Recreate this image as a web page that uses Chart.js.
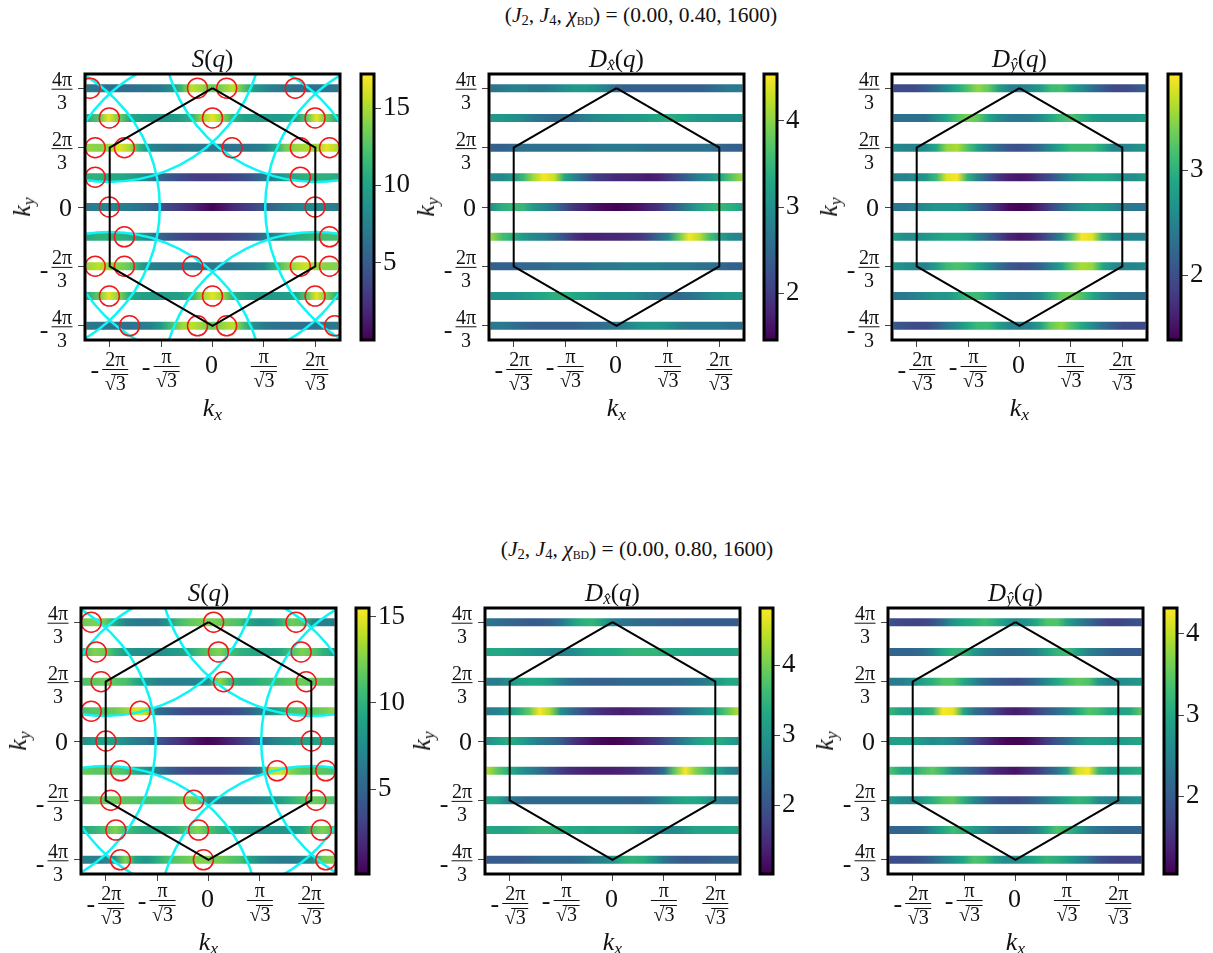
<!DOCTYPE html>
<html>
<head>
<meta charset="utf-8">
<script src="https://cdn.jsdelivr.net/npm/chart.js@4/dist/chart.umd.min.js"></script>
<style>
  body { margin: 0; background: #fff; width: 1213px; height: 953px; overflow: hidden; position: relative; }
  canvas { position: absolute; }
  .txt { position: absolute; transform: translate(-50%, -50%); font-family: "Liberation Serif", serif; color: #111; white-space: nowrap; line-height: 1; }
  .txt sub { font-size: 68%; line-height: 0; vertical-align: -0.22em; }
  .txt .bd { font-size: 55%; font-style: normal; }
</style>
</head>
<body>
<script>
// momentum samples along every strip, and the rows they sit on
const xGrid = [-4.45,-4.03,-3.67,-3.3,-2.93,-2.57,-2.2,-1.83,-1.47,-1.1,-0.73,-0.37,0,0.37,0.73,1.1,1.47,1.83,2.2,2.57,2.93,3.3,3.67,4.03,4.45];
const yRows = [4.19,3.14,2.09,1.05,0,-1.05,-2.09,-3.14,-4.19];

const xTickValues = [-3.628,-1.814,0,1.814,3.628];
const xTickNums = ["2π","π","0","π","2π"];
const yTickValues = [4.189,2.094,0,-2.094,-4.189];
const yTickNums = ["4π","2π","0","2π","4π"];

// J4 = 0.40
const Sq040 = [
  [6.8,6.6,6.4,6.2,6.2,6.4,6.6,7,8.5,11.5,15.5,14.5,13,14,15.5,12.5,9.5,8,7.2,6.8,6.5,6.3,6.4,6.7,7],
  [10.5,12.5,16.5,13.5,10.5,9.7,9.3,9.2,9.3,9.8,11,14.5,16.5,14,11,10,9.5,9.3,9.3,9.5,10,12.5,16.5,13,10.3],
  [14.5,14,14.5,16.5,15,11,8,7,6.6,6.6,6.8,6.8,6.8,6.6,6.6,6.8,7,7.5,10,13.5,14.5,15,14.5,16.5,15],
  [11,11,10.5,10.5,10,9,7.5,5.5,4.5,3.8,3.3,3,3,3.2,3.5,4,5,6.5,8,9.5,10.5,11,11,11,10.5],
  [7,7.5,8,7.5,7,6.5,5.5,4.5,3.5,2.8,2,1,0.2,1,2,2.8,3.5,4.8,6,6.8,7.5,8,8.2,7.5,7],
  [10.5,11,11,11,10.5,9.5,7.5,5.5,4.5,3.8,3.4,3,3,3.2,3.6,4,4.8,6.5,8,9.5,10.5,11,11.5,12,12],
  [14.5,15.5,14.5,14,13,10,7.5,7,6.8,6.8,7,6.8,6.8,6.6,6.6,6.8,7.2,8,11,13.5,15,16,14.5,14,14],
  [10.3,13,16.5,14,10.5,9.8,9.4,9.3,9.4,9.8,11,14.5,16.5,14.5,11,10,9.5,9.3,9.3,9.5,10,12.5,16.5,13.5,10.5],
  [7,6.7,6.5,6.4,6.5,7,7.5,9,12,14.5,15.5,14.5,13,14.5,15.5,12,8.5,7,6.5,6.3,6.3,6.5,6.6,6.8,7]
];
const Dx040 = [
  [2.6,2.7,2.8,2.8,2.7,2.7,2.8,3,3.1,3.1,3,2.8,2.5,2.4,2.4,2.4,2.4,2.4,2.4,2.4,2.4,2.5,2.6,2.7,2.7],
  [3.1,3.1,3,2.9,2.7,2.6,2.5,2.5,2.6,2.8,2.9,3,3,3.1,3.1,3.2,3.3,3.4,3.3,3.2,3.1,3.1,3,3,3],
  [2.4,2.4,2.5,2.6,2.6,2.6,2.6,2.6,2.6,2.6,2.7,2.7,2.7,2.7,2.7,2.6,2.6,2.6,2.6,2.6,2.6,2.6,2.5,2.4,2.4],
  [2.9,2.9,3.1,3.5,4.1,4.5,4.3,3.3,2.8,2.4,2,1.9,1.8,1.8,1.75,1.7,1.75,1.95,2.2,2.5,2.8,3,3.3,3.7,4.1],
  [3,3.4,3.5,3.5,3.1,2.9,2.6,2.2,1.9,1.75,1.6,1.52,1.47,1.52,1.6,1.75,1.9,2.2,2.5,2.9,3.2,3.4,3.5,3.4,3.2],
  [4.1,3.6,3.4,3.1,2.9,2.8,2.5,2.2,1.9,1.75,1.75,1.8,1.8,1.85,1.9,2.1,2.5,2.9,3.8,4.5,4.2,3.6,3.2,2.9,2.8],
  [2.4,2.4,2.4,2.5,2.5,2.5,2.6,2.6,2.6,2.6,2.7,2.7,2.7,2.8,2.8,2.8,2.8,2.7,2.7,2.7,2.6,2.6,2.5,2.4,2.4],
  [3,3,3,3.1,3.2,3.3,3.4,3.4,3.3,3.2,3.1,3,3,3,2.9,2.8,2.7,2.6,2.5,2.6,2.7,2.9,3,3.1,3.1],
  [2.7,2.7,2.6,2.5,2.4,2.4,2.4,2.4,2.4,2.5,2.5,2.6,2.7,2.8,3,3.1,3.1,3,2.8,2.7,2.7,2.7,2.7,2.6,2.6]
];
const Dy040 = [
  [1.95,1.95,1.95,2.1,2.3,2.6,2.9,3.2,3.5,3.3,2.8,2.5,2.45,2.55,2.75,3.1,3.15,2.85,2.6,2.3,2.1,1.95,1.95,2,2.2],
  [2.3,2.3,2.3,2.3,2.6,2.9,3.2,3.4,3.3,2.9,2.6,2.45,2.4,2.45,2.6,2.9,3.1,3.2,3,2.8,2.7,2.7,2.7,2.7,2.8],
  [2.6,2.5,2.5,2.6,2.9,3.5,3.6,3.2,2.8,2.5,2.2,2.05,2,2.1,2.3,2.6,2.9,3.1,3.1,3.1,2.9,2.5,2.5,2.6,2.7],
  [2.5,2.5,2.6,2.7,3.1,3.8,3.9,3,2.5,2.1,1.75,1.6,1.55,1.6,1.8,2,2.3,2.6,2.8,2.9,2.9,2.8,2.6,2.6,2.8],
  [2.4,2.4,2.5,2.6,2.7,2.7,2.7,2.5,2.2,1.9,1.65,1.45,1.4,1.45,1.65,1.9,2.2,2.5,2.7,2.8,2.7,2.6,2.4,2.4,2.4],
  [2.8,2.6,2.6,2.7,2.8,2.9,2.9,2.8,2.5,2.2,1.9,1.65,1.55,1.6,1.8,2.1,2.5,3.2,3.9,3.8,3,2.6,2.5,2.5,2.5],
  [2.7,2.6,2.5,2.5,2.8,3.1,3.2,3.1,2.9,2.6,2.3,2.1,2,2.05,2.2,2.5,2.8,3.3,3.6,3.5,2.9,2.6,2.5,2.5,2.6],
  [2.4,2.4,2.5,2.6,2.7,2.7,2.9,3.1,3.1,2.9,2.6,2.45,2.4,2.45,2.6,3,3.3,3.4,3.2,2.9,2.6,2.4,2.3,2.3,2.3],
  [2.1,2,1.95,1.95,2.1,2.4,2.6,2.9,3.1,3.1,2.8,2.55,2.45,2.5,2.8,3.3,3.5,3.2,2.9,2.6,2.3,2.1,1.95,1.95,1.95]
];

// J4 = 0.80
const Sq080 = [
  [12,12.5,12,9.5,7,6.5,6.3,6.3,8,10.5,11.5,12,12.5,12,11.5,11,9,8,8.5,10,12,11.5,7.5,6.8,6.8],
  [10.5,12.5,12,10,8.5,7.8,7.5,7.5,8,8.5,9.5,10.5,11.5,12.5,11,10,9.5,9,9,9.5,11,12.5,11.5,10,9],
  [11,11.5,12,11.5,11,9.5,8,7,6.8,6.8,6.8,7,8,13,10.5,9.5,9.5,10,10.5,11,11.5,12,11.5,11.5,11.5],
  [11,11.5,11.5,12,13,14.5,14,6,4.8,4,3.6,3.4,3.3,3.3,3.6,4,5,6.5,8,9.5,11,11.5,11.5,12,13],
  [8,8.5,9,8.5,7.5,6.5,6,4.5,3.2,2.5,1.5,0.7,0.2,0.7,1.5,2.5,3.5,5,6.5,7.5,8,8.8,9,9,8.8],
  [12,11.5,11.5,11.5,11,9.5,8,6.5,5,4,3.6,3.3,3.3,3.3,3.6,4,4.8,6,14,14.5,12.5,11.5,11.5,11.5,11],
  [11,11.5,11.8,12,11.5,11.5,11,11,11,11.5,12.5,12,7.5,7,7,7,7,7.5,8,8.8,10,11,12,11.5,11],
  [9.5,10,11,12.5,11,10,9.5,9.5,9.5,10,11.5,12.5,11,10,9.5,9,8.5,8,8,8,8.5,9,11,12.5,11],
  [6.8,6.8,7,8,12.5,9,8,9.5,11,11.5,12,12.5,12.5,12,11.5,11,9,7.5,6.8,6.5,6.5,7,8,12,12.5]
];
const Dx080 = [
  [2.5,2.4,2.3,2.2,2.1,2.1,2.2,2.5,3,3.4,3.5,3.2,2.7,2.5,2.4,2.3,2.3,2.2,2.2,2.1,2.1,2.1,2.1,2.1,2.1],
  [3.3,3.3,3.2,3.1,3,2.9,2.8,2.7,2.8,3,3.2,3.3,3.3,3.4,3.5,3.5,3.5,3.4,3.3,3.3,3.2,3.2,3.2,3.2,3.3],
  [2.6,2.6,2.9,3.2,3.3,3.3,3.1,2.7,2.4,2.3,2.2,2.2,2.2,2.3,2.3,2.3,2.3,2.3,2.3,2.4,2.5,2.6,3,3.3,3.3],
  [2.6,2.7,3,3.4,3.9,4.8,4.3,2.9,2.4,2,1.7,1.5,1.4,1.35,1.4,1.5,1.6,1.75,2,2.4,2.7,3,3.3,3.8,4.4],
  [2.9,3.2,3.4,3.2,2.9,2.6,2.4,2.1,1.7,1.4,1.2,1.08,1.03,1.08,1.2,1.4,1.6,1.9,2.3,2.7,3.1,3.3,3.4,3.2,3],
  [4.4,3.8,3.4,3,2.7,2.4,2,1.7,1.5,1.4,1.35,1.35,1.35,1.4,1.5,1.7,1.9,2.4,3.9,4.8,4.1,3.7,3.3,2.8,2.6],
  [3.3,3.2,2.6,2.4,2.3,2.3,2.3,2.3,2.3,2.3,2.3,2.3,2.3,2.3,2.25,2.3,2.5,2.8,3.1,3.3,3.3,3.1,2.7,2.6,2.6],
  [3.3,3.2,3.2,3.3,3.4,3.5,3.5,3.4,3.3,3.3,3.2,3.3,3.3,3.3,3.2,3,2.9,2.8,2.8,3,3.2,3.2,3.2,3.3,3.3],
  [2.1,2.1,2.1,2.1,2.2,2.3,2.3,2.3,2.3,2.4,2.6,2.7,2.9,3.4,3.5,3.4,3,2.5,2.2,2.1,2.1,2.1,2.2,2.2,2.3]
];
const Dy080 = [
  [1.85,1.75,1.7,1.7,1.85,2.2,2.7,3,3.1,3.3,3.1,2.8,2.6,2.7,3,3.4,3.4,2.9,2.5,2.2,1.9,1.7,1.7,1.8,1.9],
  [2.1,2.1,2.1,2.2,2.5,3,3.2,3.2,2.8,2.5,2.3,2.2,2.2,2.3,2.5,2.9,3.2,3.3,2.9,2.5,2.3,2.1,2,2,2],
  [2.4,2.4,2.6,2.9,3.1,3.4,3.4,3,2.6,2.2,2,1.9,1.8,1.95,2.2,2.6,3,3.3,3.5,3.4,2.8,2.5,2.6,2.7,2.8],
  [3.2,2.9,2.9,3,3.2,4.3,4.2,3,2.3,2,1.7,1.4,1.3,1.4,1.65,1.95,2.2,2.5,3,3.4,3.3,3,2.9,3,3.5],
  [2.9,2.9,2.9,2.8,2.6,2.7,2.5,2.2,1.8,1.5,1.25,1.1,1.05,1.1,1.3,1.6,1.9,2.2,2.6,2.9,2.9,2.8,2.8,2.9,3],
  [3.4,3,3,3.3,3.5,3.2,2.6,2.3,2,1.7,1.4,1.3,1.2,1.4,1.55,1.9,2.3,2.9,4.1,4.3,3.2,2.9,2.9,3,3.1],
  [2.8,2.6,2.5,2.8,3.1,3.4,3.5,3.1,2.6,2.2,1.9,1.85,1.8,1.9,2.1,2.4,2.7,3,3.2,3.1,2.6,2.5,2.5,2.6,2.7],
  [2.1,2.1,2.1,2.2,2.6,3,3.3,3.1,2.8,2.6,2.3,2.2,2.2,2.3,2.5,3,3.4,3.2,2.9,2.5,2.3,2.2,2.1,2.1,2.1],
  [1.8,1.8,1.8,1.9,2.1,2.4,2.7,3,3.4,3.3,2.9,2.6,2.6,2.8,3,3.2,3.1,2.9,2.6,2.3,1.9,1.75,1.7,1.7,1.75]
];

// peak markers, one list per row of yRows
const redX040 = [
  [-4.32,-0.53,0.5,2.92],[-3.64,0,3.62],[-4.14,-3.11,0.69,3.1,4.13],[-4.14,3.1],[-3.64,3.62],
  [-3.11,4.13],[-4.14,-3.11,-0.7,3.1,4.13],[-3.64,0,3.62],[-2.93,-0.53,0.5,4.31]
];
const redX080 = [
  [-4.14,0.18,3.09],[-3.96,0.35,3.27],[-3.79,0.53,3.45],[-4.14,-2.41,3.11],[-3.62,3.63],
  [-3.1,2.42,4.14],[-3.45,-0.52,3.79],[-3.27,-0.35,3.98],[-3.11,-0.18,4.14]
];

// zone boundary and the centres of the cyan circles
const hexX = [0,3.628,3.628,0,-3.628,-3.628,0];
const hexY = [4.189,2.094,-2.094,-4.189,-2.094,2.094,4.189];
const cyanX = [0,7.26,-7.26,3.63,3.63,-3.63,-3.63];
const cyanY = [0,0,0,6.28,-6.28,6.28,-6.28];

// colorbar limits and ticks
const cbarMin = [0,1.46,1.38,0.07,1.02,1.04];
const cbarMax = [17.2,4.54,3.92,15.5,4.82,4.32];
const cbarTicks = [[5,10,15],[2,3,4],[2,3],[5,10,15],[2,3,4],[2,3,4]];

const viridis = [[68,1,84],[72,36,117],[65,68,135],[53,95,141],[42,120,142],[33,145,140],[34,168,132],[68,191,112],[122,209,81],[189,223,38],[253,231,37]];
const SERIF = '"Liberation Serif", serif';

function cmap(t) {
  t = Math.min(1, Math.max(0, t));
  const i = Math.min(9, Math.floor(t * 10));
  const f = t * 10 - i;
  const c = viridis[i].map((v, n) => Math.round(v + (viridis[i + 1][n] - v) * f));
  return `rgb(${c[0]},${c[1]},${c[2]})`;
}

function addText(html, x, y, size, rotate) {
  const d = document.createElement("div");
  d.className = "txt";
  d.innerHTML = html;
  d.style.left = x + "px";
  d.style.top = y + "px";
  d.style.fontSize = size + "px";
  if (rotate) d.style.transform = "translate(-50%, -50%) rotate(-90deg)";
  document.body.appendChild(d);
}

function addCanvas(left, top, w, h) {
  const c = document.createElement("canvas");
  c.width = w;
  c.height = h;
  c.style.left = left + "px";
  c.style.top = top + "px";
  document.body.appendChild(c);
  return c;
}

const framePlugin = {
  id: "frame",
  afterDatasetsDraw(chart) {
    const a = chart.chartArea, ctx = chart.ctx;
    ctx.save();
    ctx.strokeStyle = "#000";
    ctx.lineWidth = 3;
    ctx.strokeRect(a.left, a.top, a.right - a.left, a.bottom - a.top);
    ctx.restore();
  }
};

function drawBar(ctx, x0, x1, y) {
  ctx.beginPath();
  ctx.moveTo(x0, y);
  ctx.lineTo(x1, y);
  ctx.stroke();
}

// fractions like 4π/3 are not something tick labels can do
const tickTextPlugin = {
  id: "tickText",
  afterDraw(chart) {
    const ctx = chart.ctx, a = chart.chartArea;
    ctx.save();
    ctx.fillStyle = "#111";
    ctx.strokeStyle = "#111";
    ctx.lineWidth = 1;
    ctx.textBaseline = "alphabetic";

    xTickValues.forEach((v, i) => {
      const px = chart.scales.x.getPixelForValue(v);
      if (v === 0) {
        ctx.font = "26px " + SERIF;
        ctx.textAlign = "center";
        ctx.fillText("0", px - 1, a.bottom + 33);
        return;
      }
      const cx = v < 0 ? px + 5.5 : px;
      const up = xTickNums[i] === "π" ? 3 : 0;
      ctx.font = "20px " + SERIF;
      ctx.textAlign = "center";
      ctx.fillText(xTickNums[i], cx, a.bottom + 26 - up);
      drawBar(ctx, cx - 13, cx + 13, a.bottom + 29.5 - up);
      ctx.fillText("√3", cx, a.bottom + 50 - up);
      drawBar(ctx, cx - 4, cx + 13, a.bottom + 34.5 - up);
      if (v < 0) {
        ctx.font = "26px " + SERIF;
        ctx.fillText("-", px - 15, a.bottom + 38 - up);
      }
    });

    yTickValues.forEach((v, i) => {
      const py = chart.scales.y.getPixelForValue(v);
      if (v === 0) {
        ctx.font = "26px " + SERIF;
        ctx.textAlign = "right";
        ctx.fillText("0", a.left - 13, py + 9);
        return;
      }
      const cx = a.left - 23;
      ctx.font = "20px " + SERIF;
      ctx.textAlign = "center";
      ctx.fillText(yTickNums[i], cx, py - 2);
      drawBar(ctx, cx - 10.5, cx + 10.5, py + 1);
      ctx.fillText("3", cx, py + 21);
      if (v < 0) {
        ctx.font = "26px " + SERIF;
        ctx.fillText("-", a.left - 41, py + 12);
      }
    });
    ctx.restore();
  }
};

function axisOpts(min, max, values, fit) {
  return {
    type: "linear",
    min: min,
    max: max,
    afterBuildTicks: (s) => { s.ticks = values.map((v) => ({ value: v })); },
    afterFit: fit,
    ticks: { display: false },
    border: { display: false },
    grid: { drawOnChartArea: false, drawTicks: true, tickLength: 7, tickWidth: 1, tickColor: "#444" },
  };
}

function drawHeatPanel(left, top, table, idx, redX) {
  const W = 255, H = 266, padL = 70, padB = 70, pad = 10;
  const canvas = addCanvas(left - padL, top - pad, W + padL + pad, H + pad + padB);
  const lo = cbarMin[idx], hi = cbarMax[idx];
  const datasets = [];

  table.forEach((row, r) => {
    datasets.push({
      data: row.map((v, i) => ({ x: xGrid[i], y: yRows[r] })),
      showLine: true,
      borderWidth: 8,
      borderCapStyle: "butt",
      pointRadius: 0,
      tension: 0,
      clip: 0,
      order: 3,
      // one gradient per strip, a stop on each sample
      borderColor: (ctx) => {
        const sx = ctx.chart.scales.x;
        const x0 = sx ? sx.getPixelForValue(xGrid[0]) : NaN;
        const x1 = sx ? sx.getPixelForValue(xGrid[xGrid.length - 1]) : NaN;
        if (!Number.isFinite(x0) || !Number.isFinite(x1) || x1 <= x0) return "#000"; // scales not laid out yet
        const g = ctx.chart.ctx.createLinearGradient(x0, 0, x1, 0);
        row.forEach((v, i) => {
          g.addColorStop((sx.getPixelForValue(xGrid[i]) - x0) / (x1 - x0), cmap((v - lo) / (hi - lo)));
        });
        return g;
      },
    });
  });

  if (redX) {
    datasets.push({
      data: cyanX.map((x, i) => ({ x: x, y: cyanY[i] })),
      showLine: false,
      pointRadius: 153,
      pointBackgroundColor: "transparent",
      pointBorderColor: "#0ff4f4",
      pointBorderWidth: 2.5,
      clip: 0,
      order: 2,
    });
    datasets.push({
      data: redX.flatMap((list, r) => list.map((x) => ({ x: x, y: yRows[r] }))),
      showLine: false,
      pointRadius: 10,
      pointBackgroundColor: "transparent",
      pointBorderColor: "#f01818",
      pointBorderWidth: 1.5,
      clip: 0,
      order: 1,
    });
  }

  datasets.push({
    data: hexX.map((x, i) => ({ x: x, y: hexY[i] })),
    showLine: true,
    borderColor: "#000",
    borderWidth: 2,
    pointRadius: 0,
    tension: 0,
    clip: 0,
    order: 0,
  });

  new Chart(canvas, {
    type: "scatter",
    data: { datasets: datasets },
    options: {
      responsive: false,
      animation: false,
      events: [],
      layout: { autoPadding: false, padding: { top: pad, right: pad, left: 0, bottom: 0 } },
      plugins: { legend: { display: false }, tooltip: { enabled: false }, title: { display: false } },
      scales: {
        x: axisOpts(-4.5, 4.5, xTickValues, (s) => { s.height = padB; }),
        y: axisOpts(-4.69, 4.69, yTickValues, (s) => { s.width = padL; }),
      },
    },
    plugins: [framePlugin, tickTextPlugin],
  });
}

function drawColorbar(left, top, idx) {
  const W = 13, H = 266, padL = 3, pad = 10, axisW = 50;
  const canvas = addCanvas(left - padL, top - pad, padL + W + axisW, H + 2 * pad);
  const lo = cbarMin[idx], hi = cbarMax[idx];
  new Chart(canvas, {
    type: "bar",
    data: {
      labels: [""],
      datasets: [{
        data: [[lo, hi]],
        barPercentage: 1,
        categoryPercentage: 1,
        backgroundColor: (ctx) => {
          const a = ctx.chart.chartArea;
          if (!a) return "#000";
          const g = ctx.chart.ctx.createLinearGradient(0, a.bottom, 0, a.top);
          viridis.forEach((c, i) => g.addColorStop(i / 10, `rgb(${c[0]},${c[1]},${c[2]})`));
          return g;
        },
      }],
    },
    options: {
      responsive: false,
      animation: false,
      events: [],
      layout: { autoPadding: false, padding: { top: pad, bottom: pad, left: padL, right: 0 } },
      plugins: { legend: { display: false }, tooltip: { enabled: false } },
      scales: {
        x: { display: false },
        y: {
          position: "right",
          min: lo,
          max: hi,
          afterBuildTicks: (s) => { s.ticks = cbarTicks[idx].map((v) => ({ value: v })); },
          afterFit: (s) => { s.width = axisW; s.paddingTop = 0; s.paddingBottom = 0; },
          border: { display: false },
          grid: { drawOnChartArea: false, drawTicks: true, tickLength: 7, tickWidth: 1, tickColor: "#444" },
          ticks: { color: "#111", padding: 2, font: { family: SERIF, size: 27 }, autoSkip: false, callback: (v) => String(v) },
        },
      },
    },
    plugins: [framePlugin],
  });
}

const Dxhat = '<i>D</i><sub><i>x̂</i></sub>(<i>q</i>)';
const Dyhat = '<i>D</i><sub><i>ŷ</i></sub>(<i>q</i>)';
const Sqt = '<i>S</i>(<i>q</i>)';

const panelLefts = [85, 489, 892, 81, 485, 888];
const panelTops = [74, 74, 74, 608, 608, 608];
const barLefts = [361, 764, 1168, 356, 760, 1164];
const tables = [Sq040, Dx040, Dy040, Sq080, Dx080, Dy080];
const redLists = [redX040, null, null, redX080, null, null];
const titles = [Sqt, Dxhat, Dyhat, Sqt, Dxhat, Dyhat];

tables.forEach((table, i) => {
  const left = panelLefts[i], top = panelTops[i], cx = left + 127.5;
  drawHeatPanel(left, top, table, i, redLists[i]);
  drawColorbar(barLefts[i], top, i);
  addText(titles[i], cx, top - 16, 25);
  addText('<i>k</i><sub><i>x</i></sub>', cx, top + 334, 26);
  addText('<i>k</i><sub><i>y</i></sub>', left - 63, top + 133, 26, true);
});

addText('(<i>J</i><sub>2</sub>, <i>J</i><sub>4</sub>, <i>χ</i><sub class="bd">BD</sub>) = (0.00, 0.40, 1600)', 641, 16, 21.5);
addText('(<i>J</i><sub>2</sub>, <i>J</i><sub>4</sub>, <i>χ</i><sub class="bd">BD</sub>) = (0.00, 0.80, 1600)', 637, 550, 21.5);
</script>
</body>
</html>
